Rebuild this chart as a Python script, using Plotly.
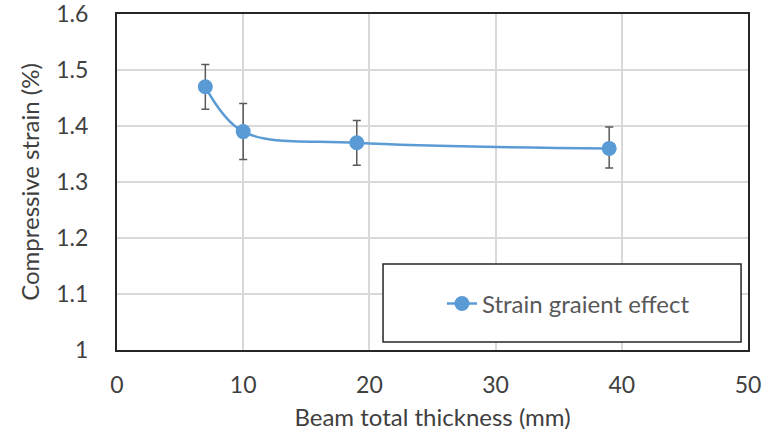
import plotly.graph_objects as go

thickness = [7, 10, 19, 39]
strain = [1.47, 1.39, 1.37, 1.36]
err_plus = [0.04, 0.05, 0.04, 0.038]
err_minus = [0.04, 0.05, 0.04, 0.035]
series_name = "Strain graient effect"
x_ticks = [0, 10, 20, 30, 40, 50]
y_ticks = [1, 1.1, 1.2, 1.3, 1.4, 1.5, 1.6]
y_tick_text = ["1", "1.1", "1.2", "1.3", "1.4", "1.5", "1.6"]

FONT = "Lato, Open Sans, sans-serif"
BLUE = "#5B9BD5"
TXT = "#404040"

fig = go.Figure()
fig.add_trace(go.Scatter(
    x=thickness, y=strain, name=series_name,
    mode="lines+markers",
    line=dict(color=BLUE, width=2.5, shape="spline", smoothing=1.0),
    marker=dict(color=BLUE, size=15),
    error_y=dict(type="data", symmetric=False, array=err_plus, arrayminus=err_minus,
                 color="#595959", thickness=1.5, width=4),
))

fig.add_shape(type="rect", xref="paper", yref="paper",
              x0=0.4216, x1=0.989, y0=0.024, y1=0.256,
              line=dict(color="#262626", width=1.5), fillcolor="white", layer="above")

fig.update_layout(
    width=783, height=435,
    margin=dict(l=117, r=35, t=14, b=85, autoexpand=False),
    paper_bgcolor="white", plot_bgcolor="white",
    font=dict(family=FONT, size=22, color=TXT),
    showlegend=True,
    legend=dict(x=0.515, y=0.137, xanchor="left", yanchor="middle",
                bgcolor="rgba(0,0,0,0)", borderwidth=0,
                font=dict(family=FONT, size=24, color="#595959"),
                itemwidth=30),
    xaxis=dict(range=[0, 50], tickvals=x_ticks, showgrid=True, gridcolor="#d9d9d9", gridwidth=1.5,
               showline=True, linecolor="#262626", linewidth=2, mirror=True, automargin=False,
               ticks="outside", ticklen=13, tickcolor="rgba(0,0,0,0)", zeroline=False,
               ticklabeloverflow="allow",
               tickfont=dict(family=FONT, size=23, color=TXT),
               title=dict(text="Beam total thickness (mm)", font=dict(family=FONT, size=24, color=TXT), standoff=13)),
    yaxis=dict(range=[1, 1.6], tickvals=y_ticks, ticktext=y_tick_text, showgrid=True, gridcolor="#d9d9d9", gridwidth=1.5,
               showline=True, linecolor="#262626", linewidth=2, mirror=True, automargin=False,
               ticks="outside", ticklen=22, tickcolor="rgba(0,0,0,0)", zeroline=False,
               ticklabeloverflow="allow",
               tickfont=dict(family=FONT, size=23, color=TXT),
               title=dict(text="Compressive strain (%)", font=dict(family=FONT, size=24, color=TXT), standoff=10)),
)

fig.write_html("out.html", config={"displayModeBar": False},
               post_script="document.body.style.margin='0';")
